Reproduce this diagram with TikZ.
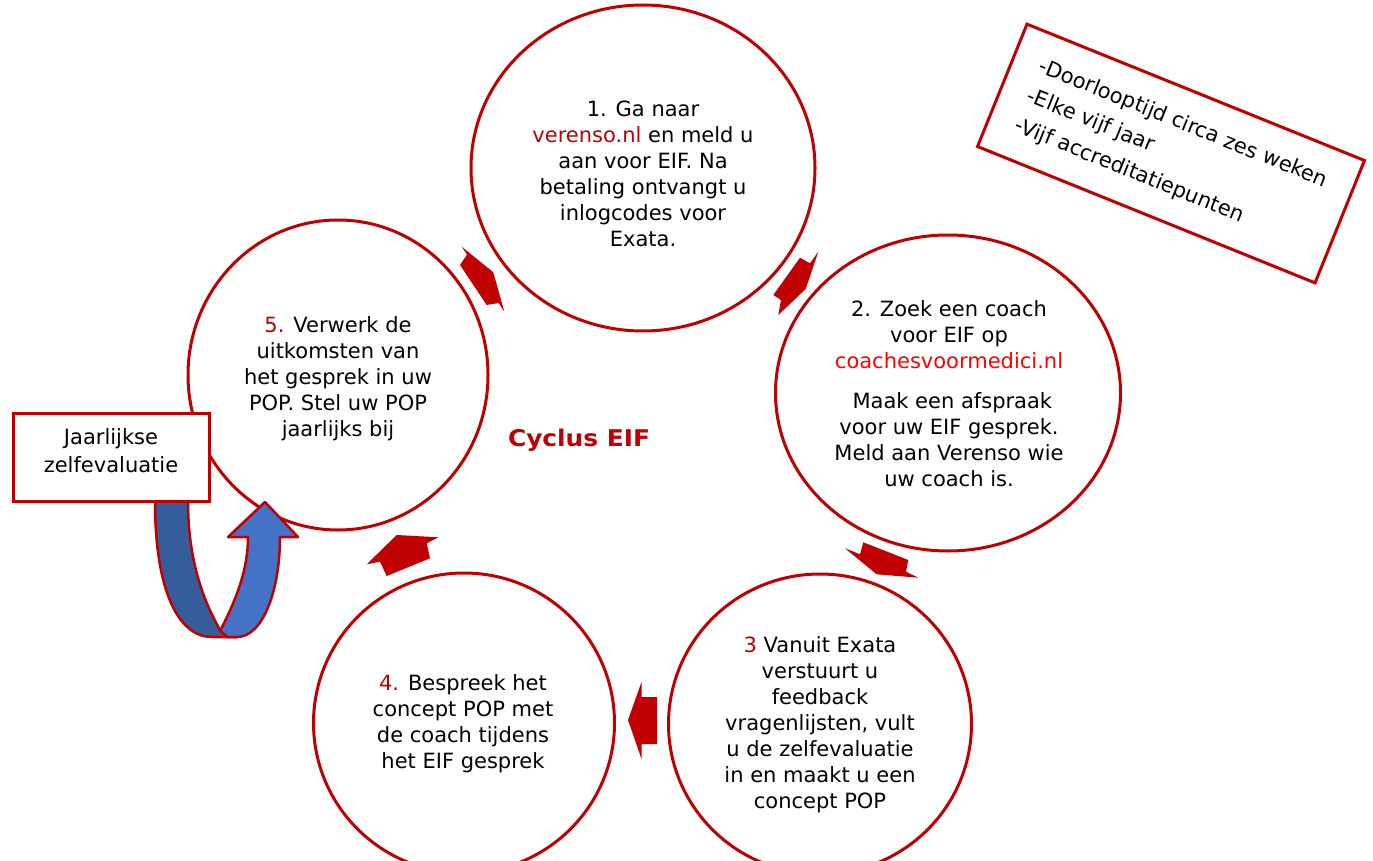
\documentclass[tikz,border=0pt]{standalone}
\usepackage{fontspec}
\setmainfont{DejaVu Sans}
\newfontfamily\titlefont{DejaVu Sans}[FakeStretch=1.08]
\usetikzlibrary{shapes.geometric}
\definecolor{ered}{HTML}{C00000}
\definecolor{urlred}{HTML}{FF0000}
\definecolor{bluedark}{HTML}{365D9B}
\definecolor{bluelight}{HTML}{4472C4}
\tikzset{
  circ/.style={ellipse, draw=ered, line width=3pt, fill=white, inner sep=0pt},
  lbl/.style={align=center, inner sep=0pt, font=\fontsize{21}{26}\selectfont},
  blockarrow/.style={fill=ered},
  ubend/.style={draw=ered, line width=2.5pt, line join=round},
  redbox/.style={draw=ered, line width=3pt, fill=white, inner sep=0pt}
}
\begin{document}
\begin{tikzpicture}[x=1pt,y=-1pt]
\useasboundingbox (0,0) rectangle (1373,861);
\clip (0,0) rectangle (1373,861);

% circles
\node[circ, minimum width=344pt, minimum height=326pt] (c1) at (643,168) {};
\node[circ, minimum width=345pt, minimum height=316pt] (c2) at (948,393) {};
\node[circ, minimum width=303pt, minimum height=300pt] (c3) at (820,724) {};
\node[circ, minimum width=301pt, minimum height=300pt] (c4) at (464,723) {};
\node[circ, minimum width=300pt, minimum height=310pt] (c5) at (338,375) {};

% labels
\node[lbl] (t1) at (643,174) {1. Ga naar\\\textcolor{ered}{verenso.nl} en meld u\\aan voor EIF. Na\\betaling ontvangt u\\inlogcodes voor\\Exata.};
\node[lbl] (t2) at (949,394) {2. Zoek een coach\\voor EIF op\\\textcolor{urlred}{coachesvoormedici.nl}\\[14pt]~Maak een afspraak\\voor uw EIF gesprek.\\Meld aan Verenso wie\\uw coach is.};
\node[lbl] (t3) at (820,725) {\textcolor{ered}{3} Vanuit Exata\\verstuurt u\\feedback\\vragenlijsten, vult\\u de zelfevaluatie\\in en maakt u een\\concept POP};
\node[lbl] (t4) at (463,724) {\textcolor{ered}{4.} Bespreek het\\concept POP met\\de coach tijdens\\het EIF gesprek};
\node[lbl] (t5) at (338,379) {\textcolor{ered}{5.} Verwerk de\\uitkomsten van\\het gesprek in uw\\POP. Stel uw POP\\jaarlijks bij};

\node[anchor=base, inner sep=0pt, text=ered, font={\titlefont\bfseries\fontsize{23}{26}\selectfont}] (title) at (579,446.5) {Cyclus EIF};

% block arrows between the circles
\fill[blockarrow] (460,265) -- (467,254.7) -- (461.7,246.7) -- (493.3,272.3) -- (504.3,311.7) -- (498.7,303) -- (486.7,305) -- cycle;
\fill[blockarrow] (800,257.7) -- (810,263.3) -- (818.3,251.7) -- (805.7,289) -- (778.3,315) -- (781,300) -- (773.3,295) -- cycle;
\fill[blockarrow] (863.3,542.3) -- (860,554.3) -- (845,548.3) -- (876.7,574.3) -- (918.3,577.7) -- (906,571.7) -- (908.3,560) -- cycle;
\fill[blockarrow] (657,697) -- (641.5,697) -- (641.5,682) -- (628,720) -- (641.5,759) -- (641.5,744) -- (657,744) -- cycle;
\fill[blockarrow] (386.7,576) -- (380,561.7) -- (366.7,564.3) -- (396.7,535) -- (438.3,537.3) -- (426.7,543.3) -- (430,558.3) -- cycle;

% U-turn arrow
\filldraw[ubend, fill=bluedark] (155,490) -- (155,501) .. controls (155,590) and (178,637) .. (212,637) -- (237,637) -- (220,630) .. controls (203,600) and (188,560) .. (188,501) -- (188,490) -- cycle;
\filldraw[ubend, fill=bluelight] (220,631) .. controls (236,600) and (248,570) .. (248,537) -- (228,537) -- (265,502) -- (298,537) -- (280,537) .. controls (280,590) and (263,637) .. (237,637) -- (228,637) -- cycle;

% yearly box
\node[redbox, minimum width=196pt, minimum height=88pt] (jz) at (111,457) {};
\node[lbl, font=\fontsize{21}{28}\selectfont] (tjz) at (111,451) {Jaarlijkse\\zelfevaluatie};

% rotated info box
\node[redbox, rotate=-22, minimum width=364pt, minimum height=132pt, align=left, font=\fontsize{21}{32}\selectfont] (info) at (1171,153.5) {-Doorlooptijd circa zes weken\\-Elke vijf jaar\\-Vijf accreditatiepunten};
\end{tikzpicture}
\end{document}
